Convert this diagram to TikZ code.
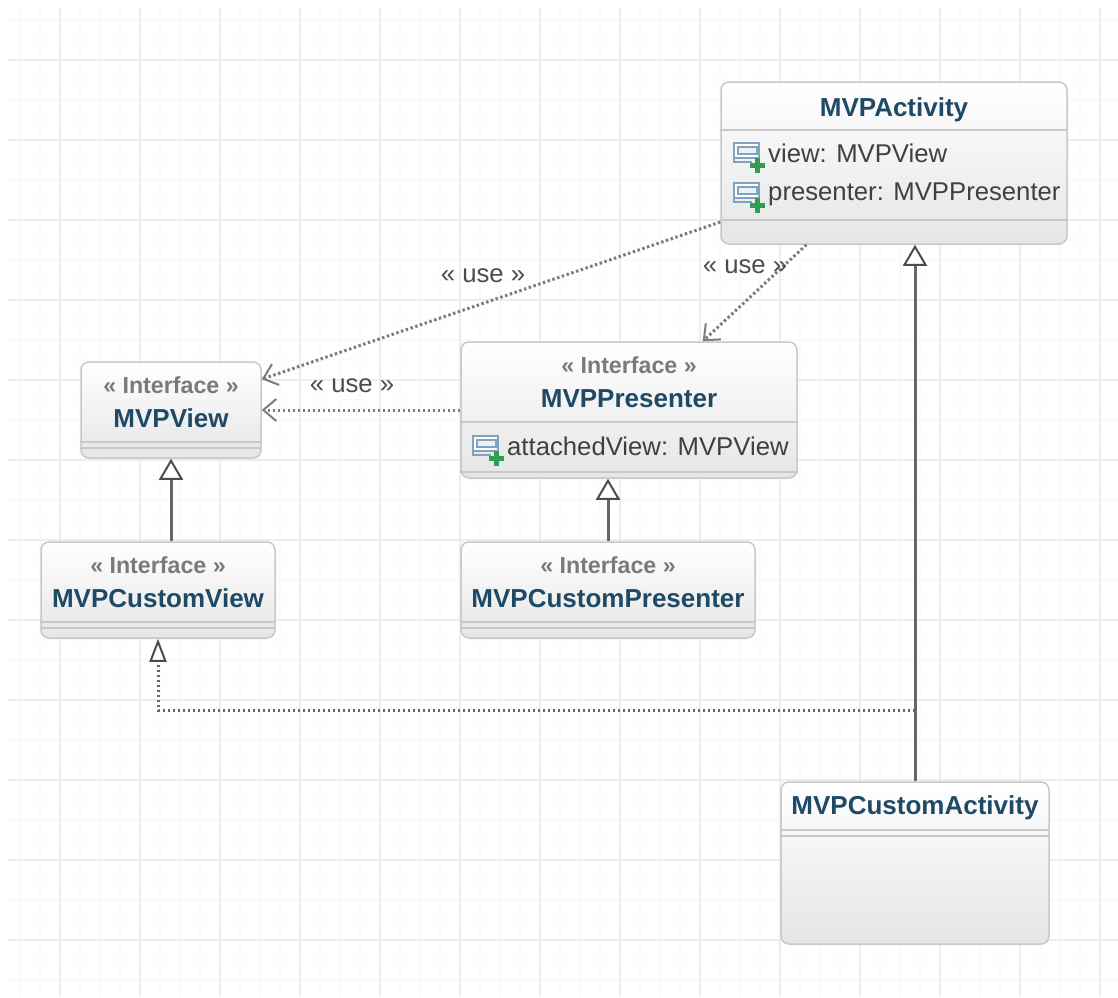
\documentclass[tikz,border=0pt]{standalone}
\usepackage{fontspec}
\setmainfont{Liberation Sans}
\usepackage{tikz}
\usetikzlibrary{arrows.meta}

\definecolor{classblue}{HTML}{1F4A66}
\definecolor{stereogray}{HTML}{7A7A7A}
\definecolor{boxline}{HTML}{C8C8C8}
\definecolor{linkgray}{HTML}{666666}
\definecolor{iconblue}{HTML}{7FA3C0}
\definecolor{icongreen}{HTML}{2F9E55}

\tikzset{
  umlbox/.style={draw=boxline,line width=1.5pt,rounded corners=8pt,top color=white,bottom color=black!10,inner sep=0pt},
  classname/.style={text=classblue,font=\fontsize{26}{28}\selectfont\bfseries,inner sep=0pt},
  stereotype/.style={text=stereogray,font=\fontsize{23.2}{26}\selectfont\bfseries,inner sep=0pt},
  fieldtext/.style={text=black!75,font=\fontsize{25.7}{28}\selectfont,anchor=west,inner sep=0pt},
  uselabel/.style={text=black!70,font=\fontsize{25.7}{28}\selectfont,inner sep=0pt},
  divider/.style={draw=boxline,line width=1.5pt},
  usearrow/.style={draw=linkgray!85,line width=3pt,dash pattern=on 2.5pt off 2.5pt,-{Straight Barb[length=13pt,width=22pt,line width=2pt]}},
  realizes/.style={draw=linkgray,line width=3pt,-{Triangle[open,color=black!70,fill=white,length=21pt,width=24pt,line width=2pt]}},
  realizesdot/.style={draw=linkgray,line width=3pt,dash pattern=on 2.5pt off 2.5pt,-{Triangle[open,color=black!70,fill=white,length=23pt,width=17pt,line width=2pt]}}
}

\newcommand{\fieldicon}[2]{
  \draw[iconblue,line width=1.5pt,fill=white] (#1,#2) rectangle +(25,15);
  \draw[iconblue,line width=1.5pt,fill=iconblue!15] (#1+4,#2+4) rectangle +(19,7);
  \draw[iconblue,line width=1.5pt] (#1,#2+15) -- +(0,4) -- +(18,4);
  \draw[icongreen,line width=5pt] (#1+23,#2+15) -- +(0,15) (#1+15.5,#2+22.5) -- +(15,0);
}

\begin{document}
\begin{tikzpicture}[x=1pt,y=-1pt]
\useasboundingbox (0,0) rectangle (1118,997);
\fill[white] (0,0) rectangle (1118,997);

% background grid
\foreach \xx in {20,40,...,1100}
  \draw[black!2,line width=1.5pt] (\xx,7) -- (\xx,997);
\foreach \yy in {20,40,...,980}
  \draw[black!2,line width=1.5pt] (8,\yy) -- (1118,\yy);
\foreach \xx in {60,140,...,1100}
  \draw[black!7,line width=2.5pt] (\xx,7) -- (\xx,997);
\foreach \yy in {60,140,...,980}
  \draw[black!7,line width=2.5pt] (8,\yy) -- (1118,\yy);

\node (MVPActivity) at (894,163) [umlbox,minimum width=346pt,minimum height=162pt] {};
\node (MVPView) at (171,410) [umlbox,minimum width=180pt,minimum height=96pt] {};
\node (MVPCustomView) at (158,590) [umlbox,minimum width=234pt,minimum height=96pt] {};
\node (MVPPresenter) at (629,410) [umlbox,minimum width=336pt,minimum height=136pt] {};
\node (MVPCustomPresenter) at (608,590) [umlbox,minimum width=294pt,minimum height=96pt] {};
\node (MVPCustomActivity) at (915,863) [umlbox,minimum width=268pt,minimum height=162pt] {};

\node (ActivityName) at (894,110) [classname] {MVPActivity};
\node (ViewStereo) at (171,385) [stereotype] {« Interface »};
\node (ViewName) at (171,418) [classname] {MVPView};
\node (CustomViewStereo) at (158,565) [stereotype] {« Interface »};
\node (CustomViewName) at (158,598) [classname] {MVPCustomView};
\node (PresenterStereo) at (629,365) [stereotype] {« Interface »};
\node (PresenterName) at (629,399) [classname] {MVPPresenter};
\node (CustomPresenterStereo) at (608,565) [stereotype] {« Interface »};
\node (CustomPresenterName) at (608,599) [classname] {MVPCustomPresenter};
\node (CustomActivityName) at (915,808) [classname] {MVPCustomActivity};

\node (ViewField) at (768,153) [fieldtext] {view: MVPView};
\node (PresenterField) at (768,194) [fieldtext] {presenter: MVPPresenter};
\node (AttachedField) at (507,446) [fieldtext] {attachedView: MVPView};

\fieldicon{734}{143}
\fieldicon{734}{183}
\fieldicon{473}{436}

% compartments
\draw[divider]
   (MVPActivity.west |- 0,130) -- (MVPActivity.east |- 0,130)
   (MVPActivity.west |- 0,220) -- (MVPActivity.east |- 0,220)
   (MVPView.west |- 0,442) -- (MVPView.east |- 0,442)
   (MVPView.west |- 0,448) -- (MVPView.east |- 0,448)
   (MVPCustomView.west |- 0,622) -- (MVPCustomView.east |- 0,622)
   (MVPCustomView.west |- 0,628) -- (MVPCustomView.east |- 0,628)
   (MVPPresenter.west |- 0,422) -- (MVPPresenter.east |- 0,422)
   (MVPPresenter.west |- 0,472) -- (MVPPresenter.east |- 0,472)
   (MVPCustomPresenter.west |- 0,622) -- (MVPCustomPresenter.east |- 0,622)
   (MVPCustomPresenter.west |- 0,628) -- (MVPCustomPresenter.east |- 0,628)
   (MVPCustomActivity.west |- 0,830) -- (MVPCustomActivity.east |- 0,830)
   (MVPCustomActivity.west |- 0,836) -- (MVPCustomActivity.east |- 0,836);

\coordinate (Junction) at (915,710);
\coordinate (Bend) at (158,710);

\draw[usearrow] (MVPActivity) -- (MVPView);
\draw[usearrow] (MVPActivity) -- (MVPPresenter);
\draw[usearrow] (MVPPresenter) -- (MVPView);

\draw[realizes] (MVPCustomView.north -| MVPView.south) -- (MVPView.south);
\draw[realizes] (MVPCustomPresenter.north) -- (MVPCustomPresenter.north |- MVPPresenter.south);
\draw[realizes] (MVPCustomActivity.north) -- (MVPCustomActivity.north |- MVPActivity.south);
\draw[realizesdot] (Junction) -- (Bend) -- (MVPCustomView.south);

\node (UseActivityView) at (483,276) [uselabel] {« use »};
\node (UseActivityPresenter) at (745,267) [uselabel] {« use »};
\node (UsePresenterView) at (352,386) [uselabel] {« use »};

\end{tikzpicture}
\end{document}
